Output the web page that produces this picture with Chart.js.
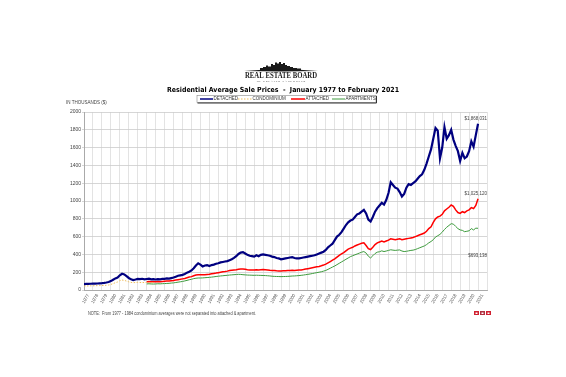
<!DOCTYPE html>
<html>
<head>
<meta charset="utf-8">
<script src="https://cdn.jsdelivr.net/npm/chart.js@4/dist/chart.umd.min.js"></script>
<style>
	html, body { margin: 0; padding: 0; background: #fff; }
	#wrap { width: 566px; height: 377px; }
</style>
</head>
<body>
<div id="wrap"><canvas id="chart" width="566" height="377"></canvas></div>
<script>
// quarterly averages in thousands of dollars
var DETACHED_START = 1977;
var detached = [
	67, 68, 69, 70,  71, 72, 73, 75,  77, 80, 84, 90,  100, 115, 130, 140,
	165, 182, 175, 155,  135, 120, 112, 118,  125, 122, 126, 120,  124, 128, 120, 122,
	118, 122, 120, 124,  126, 130, 128, 134,  140, 150, 160, 165,  170, 180, 195, 205,
	220, 245, 275, 300,  285, 265, 275, 280,  270, 280, 285, 295,  300, 310, 315, 320,
	325, 335, 345, 360,  380, 405, 420, 425,  410, 395, 385, 380,  375, 390, 380, 395,
	400, 395, 390, 385,  375, 370, 360, 355,  345, 350, 355, 360,  365, 370, 360, 355,
	355, 360, 365, 370,  375, 380, 385, 390,  400, 410, 420, 430,  450, 480, 500, 520,
	560, 600, 620, 650,  690, 730, 760, 780,  790, 820, 850, 860,  880, 900, 860, 790,
	770, 820, 880, 920,  950, 980, 960, 1010,  1090, 1210, 1180, 1150,  1140, 1100, 1050, 1080,
	1150, 1190, 1180, 1200,  1220, 1250, 1280, 1300,  1350, 1420, 1500, 1580,  1700, 1820, 1790, 1480,
	1600, 1830, 1700, 1740,  1800, 1690, 1620, 1560,  1450, 1540, 1480, 1500,  1560, 1670, 1610, 1740,
	1868
];

var CONDO_START = 1977;
var condominium = [
	45, 45, 46, 47,  47, 48, 49, 50,  50, 51, 53, 56,  62, 72, 82, 90,
	105, 112, 108, 100,  92, 85, 82, 84,  86, 84, 85, 83,  84, 82, 83, 84
];

var SPLIT_START = 1984;
var attached = [
	92, 95, 92, 94,  93, 95, 94, 96,  98, 100, 102, 105,  108, 112, 116, 120,
	125, 130, 138, 145,  150, 160, 168, 172,  172, 170, 172, 175,  178, 182, 186, 190,
	195, 200, 205, 208,  212, 218, 222, 225,  228, 232, 235, 236,  232, 228, 226, 225,
	224, 228, 226, 228,  230, 228, 225, 222,  220, 218, 215, 214,  213, 215, 216, 218,
	220, 222, 220, 222,  224, 226, 230, 235,  240, 245, 250, 255,  260, 265, 272, 280,
	290, 305, 320, 335,  350, 370, 390, 405,  420, 440, 460, 470,  480, 495, 505, 515,
	525, 530, 500, 465,  455, 480, 510, 530,  540, 550, 540, 550,  560, 575, 570, 565,
	570, 575, 565, 570,  575, 580, 585, 590,  600, 610, 620, 630,  640, 660, 690, 710,
	760, 800, 820, 830,  850, 890, 910, 930,  955, 940, 900, 870,  860, 880, 870, 890,
	900, 925, 915, 950,  1025
];
var apartments = [
	68, 70, 68, 67,  68, 70, 69, 71,  72, 74, 75, 78,  80, 84, 88, 92,
	96, 102, 108, 115,  120, 128, 132, 135,  135, 136, 138, 140,  142, 145, 148, 152,
	155, 158, 160, 163,  165, 168, 170, 172,  174, 176, 175, 172,  170, 168, 167, 166,
	165, 166, 165, 164,  163, 162, 160, 158,  155, 153, 152, 151,  150, 151, 152, 153,
	155, 157, 158, 160,  162, 165, 168, 172,  176, 180, 185, 190,  195, 200, 205, 212,
	220, 232, 245, 258,  270, 285, 300, 315,  330, 345, 360, 375,  385, 395, 405, 415,
	425, 432, 415, 380,  360, 385, 410, 425,  430, 440, 432, 438,  445, 452, 448, 445,
	448, 450, 438, 432,  435, 440, 445, 448,  455, 465, 475, 485,  495, 510, 530, 545,
	565, 595, 610, 625,  650, 680, 705, 725,  745, 740, 715, 690,  675, 670, 655, 660,
	665, 690, 675, 695,  693
];

var YEAR_FIRST = 1977;
var YEAR_LAST = 2021;
var endLabels = ['$1,868,031', '$1,025,120', '$693,138'];

function toPoints(values, start) {
	return values.map(function(v, i) { return { x: start + i / 4, y: v }; });
}

var LABEL_FONT = 'Liberation Sans, Arial, sans-serif';

var decor = {
	id: 'decor',
	afterDraw: function(chart) {
		var ctx = chart.ctx;
		ctx.save();

		// logo skyline
		ctx.fillStyle = '#1a1a1a';
		ctx.beginPath();
		ctx.moveTo(244, 71);
		ctx.lineTo(281, 68.5);
		ctx.lineTo(318, 71);
		ctx.lineTo(281, 71.6);
		ctx.closePath();
		ctx.fill();
		var blds = [[260, 68, 3], [263, 67, 3], [266, 65.5, 2], [268, 66.5, 3], [271, 64, 2], [273, 65, 2],
			[275, 62.5, 2], [277, 63.5, 2], [279, 62, 2], [281, 64, 2], [283, 63, 2], [285, 65, 2],
			[287, 66, 3], [290, 67, 3], [293, 68, 4], [297, 68.5, 4]];
		blds.forEach(function(b) { ctx.fillRect(b[0], b[1], b[2], 70 - b[1]); });

		ctx.textAlign = 'center';
		ctx.textBaseline = 'alphabetic';
		ctx.font = 'bold 7.5px Liberation Serif, serif';
		ctx.fillText('REAL ESTATE BOARD', 281, 78, 72);
		ctx.font = '2.8px Liberation Serif, serif';
		ctx.fillText('O F   G R E A T E R   V A N C O U V E R', 281, 81.5, 62);

		// title
		ctx.fillStyle = '#000';
		ctx.font = 'bold 7px DejaVu Sans, sans-serif';
		ctx.fillText('Residential Average Sale Prices  -  January 1977 to February 2021', 283, 91.5, 232);

		// legend box
		ctx.fillStyle = '#fff';
		ctx.fillRect(197, 95.5, 179, 7);
		ctx.strokeStyle = '#888';
		ctx.lineWidth = 0.6;
		ctx.strokeRect(197, 95.5, 179, 7);
		ctx.strokeStyle = '#333';
		ctx.lineWidth = 1;
		ctx.beginPath();
		ctx.moveTo(376.5, 96);
		ctx.lineTo(376.5, 103);
		ctx.lineTo(197.5, 103);
		ctx.stroke();

		var items = [
			{ x0: 200, x1: 213, color: '#000080', w: 1.5, dash: [], text: 'DETACHED' },
			{ x0: 238, x1: 252, color: '#efbe5c', w: 1, dash: [1.5, 1.5], text: 'CONDOMINIUM' },
			{ x0: 291, x1: 305, color: '#ff0000', w: 1.5, dash: [], text: 'ATTACHED' },
			{ x0: 332, x1: 345, color: '#3c9a3c', w: 1, dash: [], text: 'APARTMENTS' }
		];
		ctx.font = '4.5px ' + LABEL_FONT;
		ctx.textAlign = 'left';
		ctx.textBaseline = 'middle';
		items.forEach(function(it) {
			ctx.strokeStyle = it.color;
			ctx.lineWidth = it.w;
			ctx.setLineDash(it.dash);
			ctx.beginPath();
			ctx.moveTo(it.x0, 99);
			ctx.lineTo(it.x1, 99);
			ctx.stroke();
			ctx.setLineDash([]);
			ctx.fillStyle = '#333';
			ctx.fillText(it.text, it.x1 + 0.5, 99.2);
		});

		// axis unit and end values
		ctx.fillStyle = '#444';
		ctx.fillText('IN THOUSANDS ($)', 66, 103);
		ctx.textAlign = 'right';
		ctx.fillText(endLabels[0], 487, 119);
		ctx.fillText(endLabels[1], 487, 194);
		ctx.fillText(endLabels[2], 487, 256);

		// footnote
		ctx.textAlign = 'left';
		ctx.fillText('NOTE:  From 1977 - 1984 condominium averages were not separated into attached & apartment.', 88, 314, 168);

		// small logos bottom right
		[474, 480, 486].forEach(function(x, i) {
			ctx.fillStyle = i === 1 ? '#b03040' : '#d02030';
			ctx.fillRect(x, 311, 5, 4);
			ctx.fillStyle = '#fff';
			ctx.fillRect(x + 1.5, 312.5, 2, 1.5);
		});

		ctx.restore();
	}
};

new Chart(document.getElementById('chart'), {
	type: 'line',
	data: {
		datasets: [
			{ label: 'DETACHED', data: toPoints(detached, DETACHED_START), borderColor: '#000080', borderWidth: 2.2 },
			{ label: 'CONDOMINIUM', data: toPoints(condominium, CONDO_START), borderColor: '#efbe5c', borderWidth: 1, borderDash: [1.5, 1.5] },
			{ label: 'ATTACHED', data: toPoints(attached, SPLIT_START), borderColor: '#ff0000', borderWidth: 1.5 },
			{ label: 'APARTMENTS', data: toPoints(apartments, SPLIT_START), borderColor: '#3c9a3c', borderWidth: 1 }
		]
	},
	options: {
		responsive: false,
		devicePixelRatio: 1,
		animation: false,
		elements: { point: { radius: 0 }, line: { tension: 0 } },
		layout: { padding: { left: 0, right: 79, top: 112, bottom: 57 } },
		plugins: { legend: { display: false }, tooltip: { enabled: false } },
		scales: {
			x: {
				type: 'linear',
				min: YEAR_FIRST,
				max: YEAR_LAST + 1,
				afterFit: function(s) { s.height = 30; },
				grid: { color: '#dcdcdc', lineWidth: 0.8, drawTicks: false },
				border: { color: '#aaa' },
				ticks: {
					stepSize: 1,
					autoSkip: false,
					minRotation: 60,
					maxRotation: 60,
					padding: 3,
					labelOffset: 4.5,
					color: '#555',
					font: { size: 4.5, family: LABEL_FONT },
					callback: function(v) { return v <= YEAR_LAST ? String(v) : ''; }
				}
			},
			y: {
				min: 0,
				max: 2000,
				afterFit: function(s) { s.width = 84; },
				grid: { color: '#cccccc', lineWidth: 0.8, tickLength: 2 },
				border: { color: '#aaa' },
				ticks: {
					stepSize: 200,
					padding: 1,
					color: '#444',
					font: { size: 5, family: LABEL_FONT },
					callback: function(v) { return String(v); }
				}
			}
		}
	},
	plugins: [decor]
});
</script>
</body>
</html>
